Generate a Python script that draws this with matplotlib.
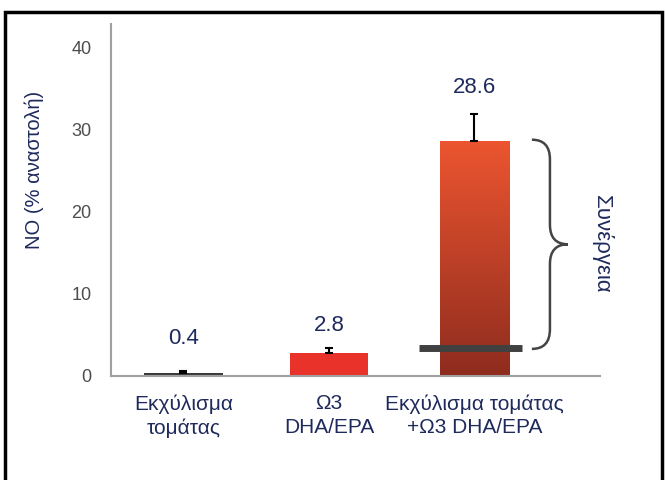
import numpy as np
import matplotlib

matplotlib.use("Agg")
import matplotlib.pyplot as plt
from matplotlib.path import Path
from matplotlib.patches import PathPatch, Rectangle
from matplotlib.colors import LinearSegmentedColormap

plt.rcParams["font.family"] = ["Liberation Sans", "DejaVu Sans"]

# data
categories = ["Εκχύλισμα\nτομάτας", "Ω3\nDHA/EPA", "Εκχύλισμα τομάτας\n+Ω3 DHA/EPA"]
values = [0.4, 2.8, 28.6]
value_labels = ["0.4", "2.8", "28.6"]
errors = [0.15, 0.6, 3.3]
additive_level = 3.4          # sum of the two single treatments (grey marker)
synergy_label = "Συνέργεια"
y_ticks = [0, 10, 20, 30, 40]

NAVY = "#1f2a5c"
xpos = np.arange(len(categories))
widths = [0.54, 0.54, 0.48]
label_gap = [4.2, 3.4, 6.5]

fig = plt.figure(figsize=(6.65, 4.8), dpi=100)
ax = fig.add_axes([0.167, 0.2167, 0.735, 0.7333])

bars = ax.bar(xpos, values, width=widths,
              color=["#3a3a3a", "#e8322a", "none"], zorder=2)
ax.errorbar(xpos, values, yerr=[[0] * 3, errors], fmt="none",
            ecolor="black", elinewidth=1.5, capsize=3, capthick=1.5, zorder=3)

# gradient fill on the combination bar
cmap = LinearSegmentedColormap.from_list("grad", ["#8e2c1e", "#ec5530"])
b = bars[2]
x0, w, h = b.get_x(), b.get_width(), b.get_height()
grad = np.linspace(0, 1, 256).reshape(-1, 1)
ax.imshow(grad, cmap=cmap, origin="lower", aspect="auto",
          extent=(x0, x0 + w, 0, h), zorder=2)

# additive-effect marker
ax.hlines(additive_level, xpos[2] - 0.38, xpos[2] + 0.33,
          colors="#404040", linewidth=5, zorder=4)

# curly brace from additive level to top of combination bar
bx0, bxm, bxt = xpos[2] + 0.395, xpos[2] + 0.519, xpos[2] + 0.643
top, bot = 28.8, additive_level - 0.1
mid = (top + bot) / 2
r = 2.4
verts = [(bx0, top), (bxm, top), (bxm, top - r),
         (bxm, mid + r), (bxm, mid), (bxt, mid),
         (bxm, mid), (bxm, mid - r),
         (bxm, bot + r), (bxm, bot), (bx0, bot)]
codes = [Path.MOVETO, Path.CURVE3, Path.CURVE3,
         Path.LINETO, Path.CURVE3, Path.CURVE3,
         Path.CURVE3, Path.CURVE3,
         Path.LINETO, Path.CURVE3, Path.CURVE3]
ax.add_patch(PathPatch(Path(verts, codes), facecolor="none",
                       edgecolor="#444444", linewidth=1.8, clip_on=False))
ax.text(xpos[2] + 0.875, mid, synergy_label, rotation=270, ha="center",
        va="center", fontsize=16, color=NAVY, clip_on=False)

# value labels
for x, v, lab, gap in zip(xpos, values, value_labels, label_gap):
    ax.text(x, v + gap, lab, ha="center", va="center", fontsize=16, color=NAVY)

ax.set_xlim(-0.498, 2.862)
ax.set_ylim(0, 42.9)
ax.set_yticks(y_ticks)
ax.set_yticklabels([str(t) for t in y_ticks], fontsize=13, color="#4d4d4d")
ax.set_xticks(xpos)
ax.set_xticklabels(categories, fontsize=15, color=NAVY, linespacing=1.3)
ax.tick_params(axis="y", length=0, pad=14)
ax.tick_params(axis="x", length=0, pad=13)
ax.set_ylabel("NO (% αναστολή)", fontsize=14.5, color=NAVY)
ax.yaxis.set_label_coords(-0.137, 0.585)

for s in ["top", "right"]:
    ax.spines[s].set_visible(False)
for s in ["left", "bottom"]:
    ax.spines[s].set_color("#a0a0a0")
    ax.spines[s].set_linewidth(1.5)

# outer frame of the slide
fig.patches.append(Rectangle((5 / 665, -0.05), 657 / 665, 1.05 - 12 / 480,
                             transform=fig.transFigure, fill=False,
                             edgecolor="black", linewidth=2.5))

fig.savefig("out.png", dpi=100)
